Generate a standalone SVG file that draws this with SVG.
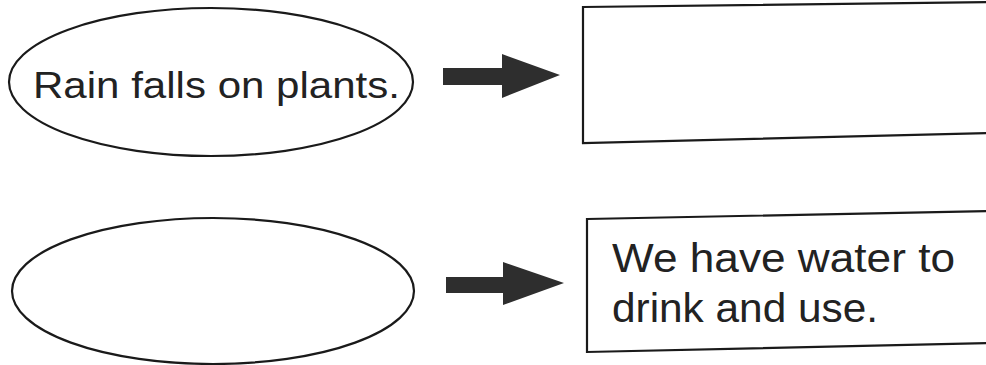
<svg xmlns="http://www.w3.org/2000/svg" width="986" height="365" viewBox="0 0 986 365">
<style>
.shape{fill:#fff;stroke:#1a1a1a;stroke-width:2.2}
.lbl{font-family:"Liberation Sans",Arial,sans-serif;fill:#222}
.arrow{fill:#2e2e2e}
</style>
<rect width="986" height="365" fill="#fff"/>
<g id="node-rain">
<ellipse class="shape" cx="211" cy="82" rx="202" ry="74"/>
<text class="lbl" x="33" y="98" font-size="37" textLength="367" lengthAdjust="spacingAndGlyphs">Rain falls on plants.</text>
</g>
<g id="node-box1">
<polygon class="shape" points="583,7 992,2 992,133 583,143"/>
</g>
<g id="node-ellipse2">
<ellipse class="shape" cx="213" cy="291" rx="201" ry="73"/>
</g>
<g id="node-water">
<polygon class="shape" points="587,219 992,211 992,343 587,352"/>
<text class="lbl" x="612" y="272" font-size="41" textLength="343" lengthAdjust="spacingAndGlyphs">We have water to</text>
<text class="lbl" x="612" y="322" font-size="41" textLength="266" lengthAdjust="spacingAndGlyphs">drink and use.</text>
</g>
<g id="connectors">
<polygon class="arrow" points="443,68 502,68 502,54 560,75 502,98 502,85 443,85"/>
<polygon class="arrow" points="446,277 503,277 503,262 564,283 503,305 503,293 446,293"/>
</g>
</svg>
